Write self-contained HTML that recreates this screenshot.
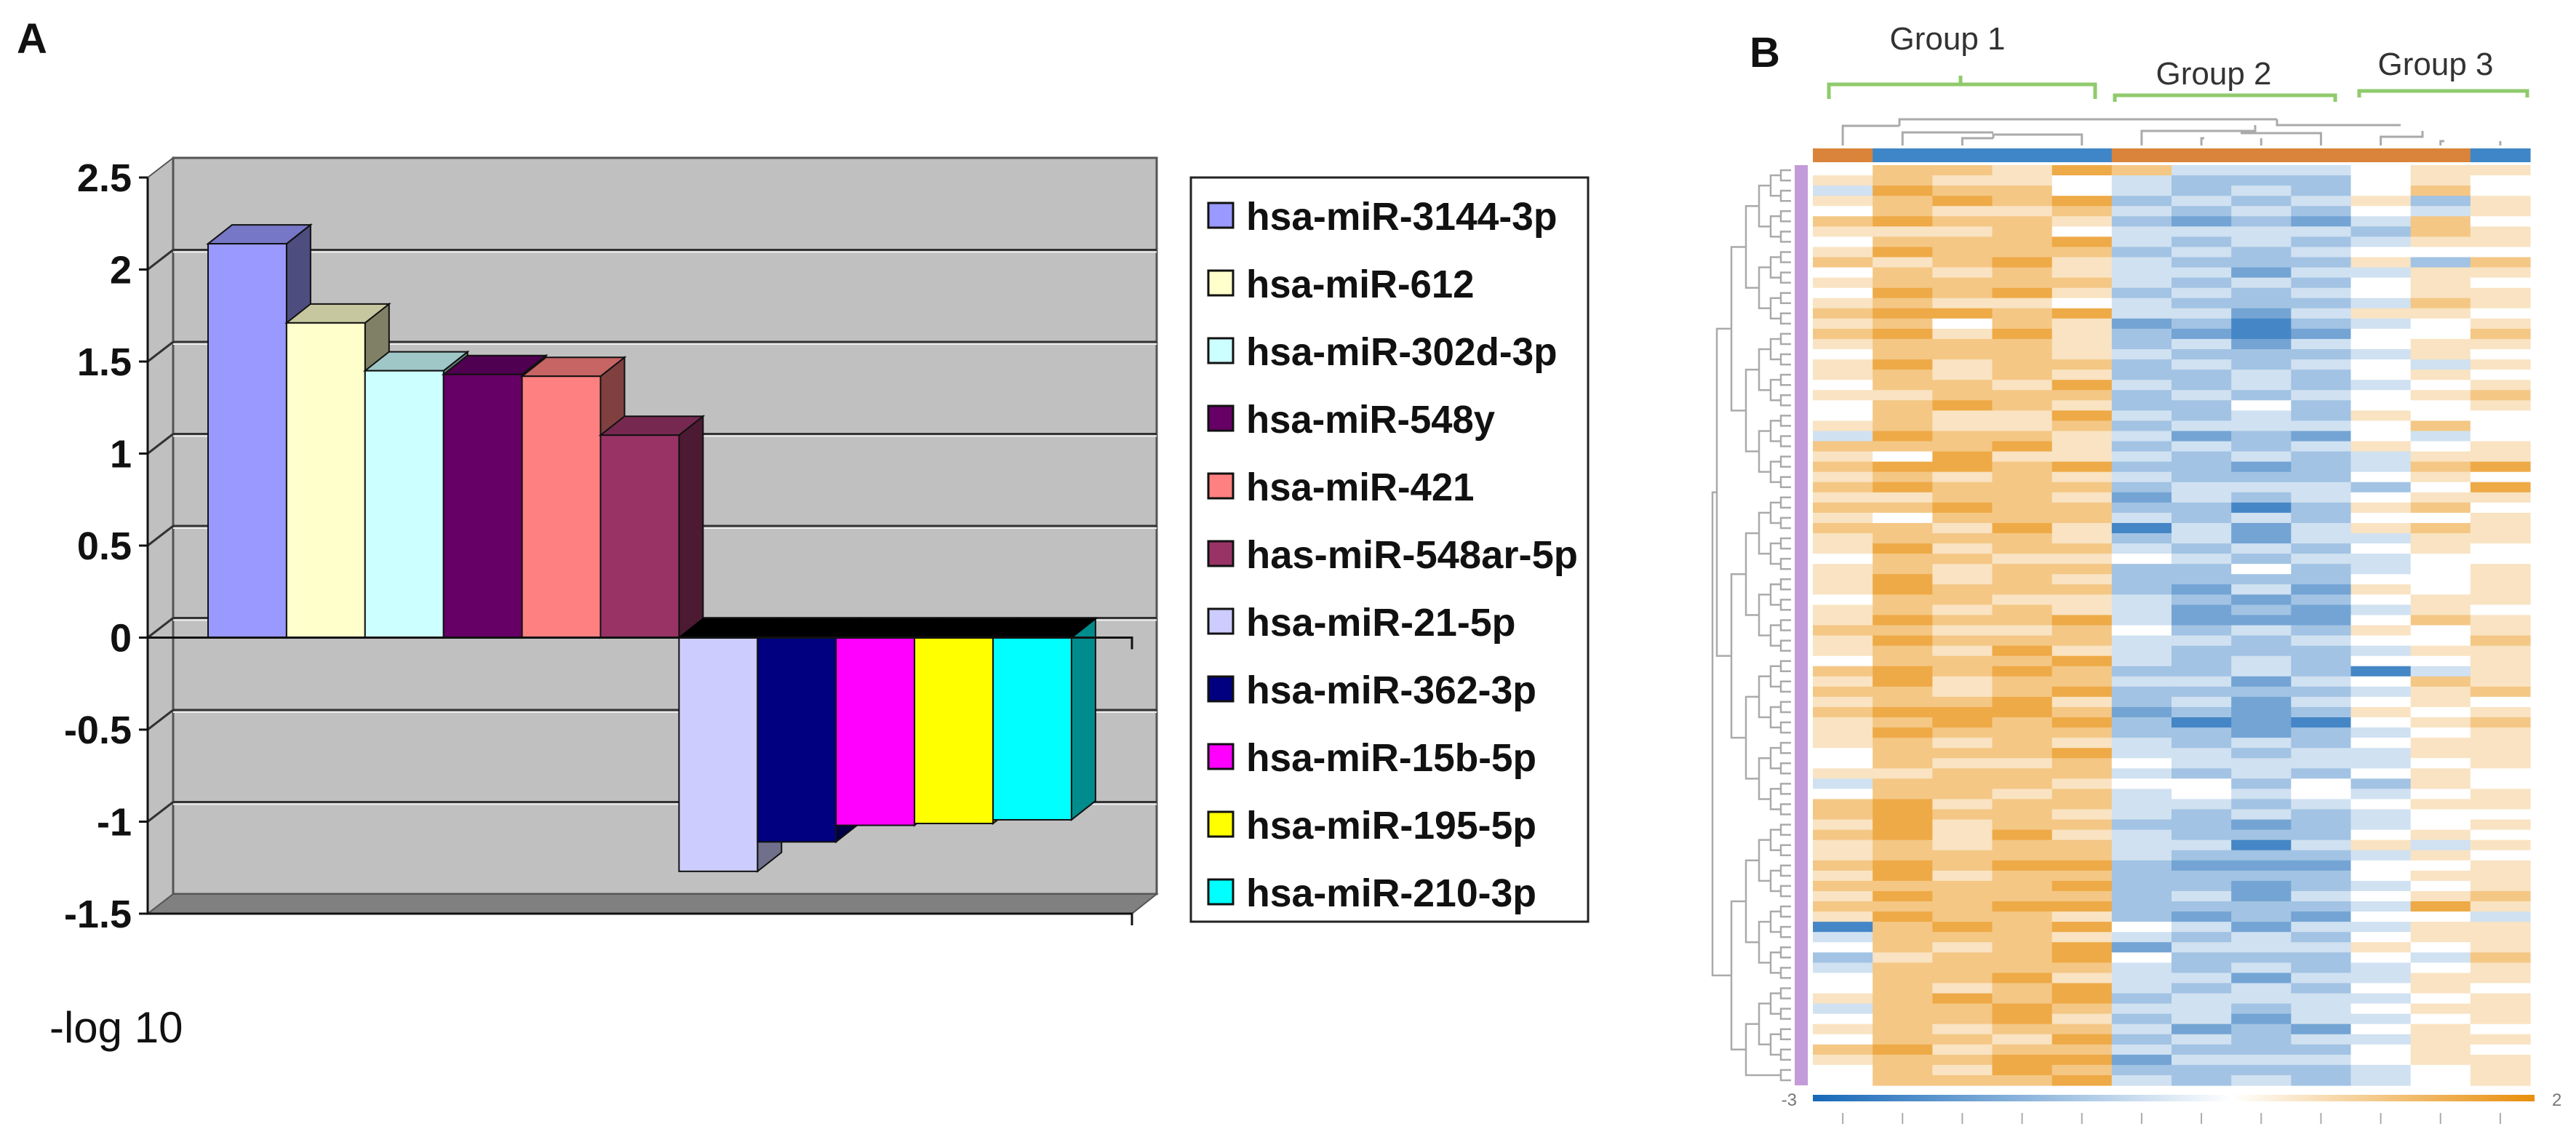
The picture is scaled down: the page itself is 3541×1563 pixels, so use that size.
<!DOCTYPE html>
<html><head><meta charset="utf-8"><style>
html,body{margin:0;padding:0;background:#fff;}
svg{display:block;}
</style></head><body>
<svg id="fig" width="3541" height="1563" viewBox="0 0 3541 1563" xmlns="http://www.w3.org/2000/svg" font-family="Liberation Sans, sans-serif">
<g id="panelA"></g>
<g id="panelB"></g>
</svg>
<script>
// ---------- Panel A data ----------
const categories = ["hsa-miR-3144-3p","hsa-miR-612","hsa-miR-302d-3p","hsa-miR-548y","hsa-miR-421","has-miR-548ar-5p","hsa-miR-21-5p","hsa-miR-362-3p","hsa-miR-15b-5p","hsa-miR-195-5p","hsa-miR-210-3p"];
const values = [2.14, 1.71, 1.45, 1.43, 1.42, 1.10, -1.27, -1.11, -1.02, -1.01, -0.99];
const yTicks = [2.5, 2, 1.5, 1, 0.5, 0, -0.5, -1, -1.5];
const yTickLabels = ["2.5","2","1.5","1","0.5","0","-0.5","-1","-1.5"];
const barColors = ["#9999ff","#ffffcc","#ccffff","#660066","#ff8080","#993366","#ccccff","#000080","#ff00ff","#ffff00","#00ffff"];

// ---------- Panel B data ----------
const heatRows = ["577687444566","676654333565","487754343575","678783434636","576674343546","787763232475","666754444376","577784343466","687773434555","767864333637","576764424466","677774343565","587863434566","676654333476","788784424665","675762313456","786863212557","677763424566","577764333465","686773434546","676763343565","577684343456","667773434567","578763353556","576684343655","676673444575","487764232545","777863434656","658664343466","788783323478","676764333565","787773444358","667762434566","778773313675","657774343556","776861424676","677763424466","686774343565","577665434455","676773353456","686763333556","687773242656","577664323566","676764232465","687784222576","776675343656","687774434557","676864333466","577784343556","787873343146","686774424576","776783333467","677863424565","788872323656","678783121567","687773323456","676764343566","577784434466","576675444456","667774343565","477765535365","577674545456","786774434566","787764343455","686773323456","786864333565","676774414646","677774333465","787883222556","686773333566","777783323456","687773424567","777883333486","687763232554","178785424466","477764343566","576782444656","367785333547","477774343456","577864424466","576784343565","678783444456","477874434566","577863424456","676774232565","577683434466","786774333565","677882444566","576873333456","577784343456"];
const colGroups = ["o","b","b","b","b","o","o","o","o","o","o","b"];
const groupLabels = ["Group 1","Group 2","Group 3"];
const scaleLabels = ["-3","2"];

const NS="http://www.w3.org/2000/svg";
function mk(parent,tag,attrs,text){const e=document.createElementNS(NS,tag);for(const k in attrs)e.setAttribute(k,attrs[k]);if(text!==undefined)e.textContent=text;parent.appendChild(e);return e;}
function shade(hex,f){const n=parseInt(hex.slice(1),16);let r=n>>16,g=(n>>8)&255,b=n&255;r=Math.round(r*f);g=Math.round(g*f);b=Math.round(b*f);return `rgb(${r},${g},${b})`;}

// ---------- Panel A ----------
const A=document.getElementById('panelA');
const ax0=203, axR=1556, dx=35, dy=-27;
const yMax=2.5, yMin=-1.5, pyTop=244, pyBot=1256;
function Y(v){return pyTop+(yMax-v)/(yMax-yMin)*(pyBot-pyTop);}
const barX0=286, barW=107.9, bdx=33, bdy=-26;
function X(i){return barX0+i*barW;}

let t=mk(A,'text',{x:23,y:73,'font-size':58,'font-weight':'bold',fill:'#111'},'A');



let sw=mk(A,'polygon',{points:`${ax0},${Y(yMax)} ${ax0+dx},${Y(yMax)+dy} ${ax0+dx},${Y(yMin)+dy} ${ax0},${Y(yMin)}`,fill:'#c0c0c0',stroke:'#555','stroke-width':2});


let bw=mk(A,'rect',{x:ax0+dx,y:Y(yMax)+dy,width:1590-(ax0+dx),height:Y(yMin)-Y(yMax),fill:'#c0c0c0',stroke:'#555','stroke-width':3});


let fl=mk(A,'polygon',{points:`${ax0},${Y(yMin)} ${ax0+dx},${Y(yMin)+dy} 1590,${Y(yMin)+dy} ${axR},${Y(yMin)}`,fill:'#808080',stroke:'#555','stroke-width':2});



yTicks.forEach((v,i)=>{
  const y=Y(v);
  if(v!==yMin && v!==yMax){
    let g=mk(A,'line',{x1:ax0+dx,y1:y+dy,x2:1590,y2:y+dy,stroke:'#333','stroke-width':3});
    
    
    let g2=mk(A,'line',{x1:ax0,y1:y,x2:ax0+dx,y2:y+dy,stroke:'#333','stroke-width':3});
    
    
    let g3=mk(A,'line',{x1:ax0+dx,y1:y+dy+3,x2:1590,y2:y+dy+3,stroke:'#eee','stroke-width':2});
    
    
  }
  let tk=mk(A,'line',{x1:ax0-12,y1:y,x2:ax0,y2:y,stroke:'#111','stroke-width':3});
  
  
  let lb=mk(A,'text',{x:ax0-22,y:y+19,'font-size':54,'font-weight':'bold','text-anchor':'end',fill:'#111'},yTickLabels[i]);
  
  
});

const y0=Y(0);
values.forEach((v,i)=>{
  const x0=X(i), x1=x0+barW, yv=Y(v), c=barColors[i];
  const g=mk(A,'g',{});
  
  
  if(v>=0){
    mk(g,'polygon',{points:`${x1},${yv} ${x1+bdx},${yv+bdy} ${x1+bdx},${y0+bdy} ${x1},${y0}`,fill:shade(c,0.5),stroke:'#111','stroke-width':2});
    mk(g,'polygon',{points:`${x0},${yv} ${x0+bdx},${yv+bdy} ${x1+bdx},${yv+bdy} ${x1},${yv}`,fill:shade(c,0.78),stroke:'#111','stroke-width':2});
    mk(g,'rect',{x:x0,y:yv,width:barW,height:y0-yv,fill:c,stroke:'#111','stroke-width':2});
  } else {
    mk(g,'polygon',{points:`${x1},${y0} ${x1+bdx},${y0+bdy} ${x1+bdx},${yv+bdy} ${x1},${yv}`,fill:shade(c,0.55),stroke:'#111','stroke-width':2});
    mk(g,'polygon',{points:`${x0},${y0} ${x0+bdx},${y0+bdy} ${x1+bdx},${y0+bdy} ${x1},${y0}`,fill:'#000',stroke:'#000','stroke-width':2});
    mk(g,'rect',{x:x0,y:y0,width:barW,height:yv-y0,fill:c,stroke:'#111','stroke-width':2});
  }
});

let ya=mk(A,'line',{x1:ax0,y1:Y(yMax),x2:ax0,y2:Y(yMin),stroke:'#111','stroke-width':3});


let za=mk(A,'polyline',{points:`${ax0},${y0} ${axR},${y0} ${axR},${y0+16}`,fill:'none',stroke:'#111','stroke-width':3});


let xa=mk(A,'polyline',{points:`${ax0},${Y(yMin)} ${axR},${Y(yMin)} ${axR},${Y(yMin)+16}`,fill:'none',stroke:'#111','stroke-width':3});



let yt=mk(A,'text',{x:68,y:1433,'font-size':60,fill:'#111'},'-log 10');



const lg=mk(A,'g',{});


mk(lg,'rect',{x:1637,y:244,width:546,height:1023,fill:'#fff',stroke:'#222','stroke-width':3});
categories.forEach((c,i)=>{
  const cy=296+i*93;
  const e=mk(lg,'g',{});
  
  
  mk(e,'rect',{x:1661,y:cy-17,width:34,height:34,fill:barColors[i],stroke:'#111','stroke-width':3});
  mk(e,'text',{x:1713,y:cy+20,'font-size':54,'font-weight':'bold',fill:'#111',textLength:(c.length*28.5),lengthAdjust:'spacingAndGlyphs'},c);
});

// ---------- Panel B ----------
const B=document.getElementById('panelB');
const hx0=2492, hx1=3478, hy0=227, hy1=1492;
const nC=12, nR=heatRows.length, cw=(hx1-hx0)/nC, rh=(hy1-hy0)/nR;
function lerp(a,b,t){return Math.round(a+(b-a)*t);}
function colorFor(d){
  const blue=[22,104,184], orange=[232,142,10];
  if(d<=5){const t=(5-d)/5;return `rgb(${lerp(255,blue[0],t)},${lerp(255,blue[1],t)},${lerp(255,blue[2],t)})`;}
  const t=(d-5)/4;return `rgb(${lerp(255,orange[0],t)},${lerp(255,orange[1],t)},${lerp(255,orange[2],t)})`;
}
let tb=mk(B,'text',{x:2405,y:92,'font-size':58,'font-weight':'bold',fill:'#111'},'B');



const hm=mk(B,'g',{});


heatRows.forEach((row,r)=>{
  for(let c=0;c<nC;c++){
    const d=parseInt(row[c]);
    const cell=mk(hm,'rect',{x:hx0+c*cw,y:hy0+r*rh,width:cw+0.6,height:rh+0.6,fill:colorFor(d)});
    
    
  }
});

colGroups.forEach((g,c)=>{
  const cb=mk(B,'rect',{x:hx0+c*cw,y:204,width:cw+0.6,height:19,fill:g==='o'?'#d9843a':'#3f86c8'});
  
  
});
let rb=mk(B,'rect',{x:2467,y:hy0,width:18,height:hy1-hy0,fill:'#c39bd8'});



const cd=mk(B,'g',{fill:'none',stroke:'#aaa','stroke-width':3});


function cx(c){return hx0+(c+0.5)*cw;}
[[cx(0),200,cx(0),173,2611,173],[2611,173,2611,164,3130,164],[cx(1),200,cx(1),182,2685,182],[cx(2),200,cx(2),190,2740,190],[2740,190,2740,185,cx(4),185,cx(4),200],[2685,182,2740,182],[2611,173,2611,164],[cx(5),200,cx(5),180,3100,180,3100,172],[cx(6),200,cx(6),190,3030,190],[cx(7),200,cx(7),190],[cx(8),200,cx(8),183,3080,183],[3130,164,3130,172,3300,172],[cx(9),200,cx(9),188,3330,188,3330,180],[cx(10),200,cx(10),194,3360,194],[cx(11),200,cx(11),194]].forEach(p=>{
  let s='';for(let i=0;i<p.length;i+=2)s+=(i?' ':'')+p[i]+','+p[i+1];
  mk(cd,'polyline',{points:s});
});

const rd=mk(B,'g',{fill:'none',stroke:'#aaa','stroke-width':2.5});


let nodes=[];for(let r=0;r<nR;r++)nodes.push({y:hy0+(r+0.5)*rh,x:2462});
let level=0;
while(nodes.length>1){
  const next=[];level++;
  for(let i=0;i<nodes.length;i+=2){
    if(i+1>=nodes.length){next.push(nodes[i]);continue;}
    const a=nodes[i],b=nodes[i+1];
    const nx=2462-[0,14,28,44,62,82,102,107][Math.min(level,7)];
    const xx=Math.min(nx,a.x-6,b.x-6);
    mk(rd,'polyline',{points:`${a.x},${a.y} ${xx},${a.y} ${xx},${b.y} ${b.x},${b.y}`});
    next.push({x:xx,y:(a.y+b.y)/2});
  }
  nodes=next;
}

const gb=mk(B,'g',{fill:'none',stroke:'#8fca6c','stroke-width':5});


mk(gb,'polyline',{points:'2514,136 2514,116 2880,116 2880,136'});
mk(gb,'line',{x1:2695,y1:116,x2:2695,y2:104});
mk(gb,'polyline',{points:'2907,140 2907,131 3210,131 3210,140'});
mk(gb,'polyline',{points:'3243,134 3243,125 3474,125 3474,134'});
[[2677,68],[3043,116],[3348,103]].forEach((p,i)=>{
  const gl=mk(B,'text',{x:p[0],y:p[1],'font-size':44,'text-anchor':'middle',fill:'#333'},groupLabels[i]);
  
  
});

const defs=mk(B,'defs',{});
const lgd=mk(defs,'linearGradient',{id:'cs',x1:0,x2:1,y1:0,y2:0});
mk(lgd,'stop',{offset:'0','stop-color':'#1668b8'});
mk(lgd,'stop',{offset:'0.58','stop-color':'#ffffff'});
mk(lgd,'stop',{offset:'1','stop-color':'#e88e0a'});
let csb=mk(B,'rect',{x:2492,y:1505,width:992,height:9,fill:'url(#cs)'});


let s1=mk(B,'text',{x:2470,y:1520,'font-size':24,'text-anchor':'end',fill:'#777'},scaleLabels[0]);


let s2=mk(B,'text',{x:3508,y:1520,'font-size':24,fill:'#777'},scaleLabels[1]);


for(let c=0;c<nC;c++){
  const tk=mk(B,'line',{x1:cx(c),y1:1530,x2:cx(c),y2:1545,stroke:'#aaa','stroke-width':2});
  
  
}
</script>
</body></html>
